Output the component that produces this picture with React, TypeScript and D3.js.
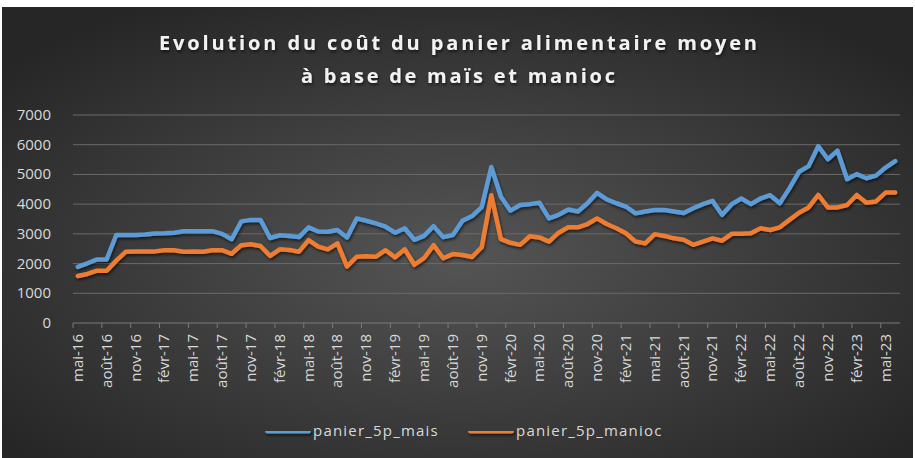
import React, { useEffect, useRef } from "react";
import * as d3 from "d3";

const monthNames = ["janv", "févr", "mars", "avr", "mai", "juin", "juil", "août", "sept", "oct", "nov", "déc"];

// mai-16 .. juin-23
const categories: string[] = [];
for (let k = 0; k < 86; k++) {
  const m = (4 + k) % 12;
  const yr = 16 + Math.floor((4 + k) / 12);
  categories.push(`${monthNames[m]}-${yr}`);
}

const mais = [
  1890, 2010, 2140, 2140, 2960, 2960, 2960, 2980, 3010, 3020,
  3040, 3090, 3090, 3090, 3090, 3000, 2820, 3420, 3470, 3470,
  2860, 2950, 2930, 2890, 3220, 3080, 3070, 3130, 2880, 3520,
  3440, 3350, 3240, 3040, 3190, 2800, 2930, 3260, 2890, 2960,
  3440, 3600, 3900, 5250, 4250, 3780, 3970, 4000, 4050, 3520,
  3640, 3820, 3750, 4030, 4380, 4160, 4030, 3920, 3690, 3750,
  3800, 3800, 3750, 3700, 3860, 4000, 4110, 3640, 4000, 4190,
  4000, 4190, 4300, 4030, 4530, 5090, 5280, 5950, 5510, 5800,
  4840, 5010, 4870, 4960, 5230, 5450,
];

const manioc = [
  1580, 1650, 1760, 1760, 2100, 2400, 2410, 2410, 2410, 2450,
  2450, 2400, 2410, 2400, 2450, 2450, 2330, 2620, 2650, 2590,
  2260, 2480, 2460, 2400, 2790, 2570, 2480, 2680, 1900, 2230,
  2250, 2230, 2450, 2210, 2480, 1960, 2180, 2620, 2180, 2320,
  2290, 2220, 2550, 4300, 2820, 2700, 2630, 2920, 2880, 2740,
  3040, 3220, 3220, 3330, 3520, 3330, 3190, 3020, 2740, 2680,
  2990, 2930, 2850, 2800, 2630, 2740, 2850, 2770, 3000, 3000,
  3020, 3190, 3130, 3220, 3470, 3710, 3890, 4310, 3890, 3890,
  3970, 4310, 4050, 4090, 4390, 4390,
];

const yTicks = [0, 1000, 2000, 3000, 4000, 5000, 6000, 7000];
const seriesNames = ["panier_5p_mais", "panier_5p_manioc"];
const seriesColors = ["#5B9BD5", "#ED7D31"];
const titleLines = ["Evolution du coût du panier alimentaire moyen", "à base de maïs et manioc"];

const W = 915;
const H = 458;
const FONT = "'Open Sans', sans-serif";

export default function App() {
  const ref = useRef<SVGSVGElement | null>(null);

  useEffect(() => {
    if (!ref.current) return;
    const svg = d3.select(ref.current);
    svg.selectAll("*").remove();

    const defs = svg.append("defs");
    const grad = defs
      .append("radialGradient")
      .attr("id", "bg")
      .attr("cx", "50%")
      .attr("cy", "55%")
      .attr("r", "65%");
    grad.append("stop").attr("offset", "0%").attr("stop-color", "#555555");
    grad.append("stop").attr("offset", "100%").attr("stop-color", "#262626");

    const shadow = defs
      .append("filter")
      .attr("id", "sh")
      .attr("filterUnits", "userSpaceOnUse")
      .attr("x", 0)
      .attr("y", 0)
      .attr("width", W)
      .attr("height", H);
    shadow
      .append("feDropShadow")
      .attr("dx", 1)
      .attr("dy", 2)
      .attr("stdDeviation", 1.5)
      .attr("flood-color", "#000")
      .attr("flood-opacity", 0.6);

    // spreadsheet strip above
    svg.append("rect").attr("x", 0).attr("y", 0).attr("width", W).attr("height", H).attr("fill", "#ffffff");
    svg.append("rect").attr("x", 2).attr("y", 7).attr("width", 911).attr("height", 451).attr("fill", "url(#bg)");

    const x = d3.scaleBand<number>().domain(d3.range(categories.length)).range([73, 900]);
    const y = d3.scaleLinear().domain([0, 7000]).range([323, 115]);
    const cx = (i: number) => x(i)! + x.bandwidth() / 2;

    // title
    const titleWidths = [598, 314];
    titleLines.forEach((t, k) => {
      svg
        .append("text")
        .attr("x", 458)
        .attr("y", 50 + k * 33)
        .attr("text-anchor", "middle")
        .attr("fill", "#f2f2f2")
        .attr("font-family", FONT)
        .attr("font-weight", 700)
        .attr("font-size", 20)
        .attr("textLength", titleWidths[k])
        .attr("lengthAdjust", "spacing")
        .attr("filter", "url(#sh)")
        .text(t);
    });

    // grid
    svg
      .append("g")
      .selectAll("line")
      .data(yTicks.filter((d) => d > 0))
      .enter()
      .append("line")
      .attr("x1", 73)
      .attr("x2", 900)
      .attr("y1", (d) => y(d))
      .attr("y2", (d) => y(d))
      .attr("stroke", "#6a6a6a")
      .attr("stroke-width", 1);

    // y axis labels
    svg
      .append("g")
      .selectAll("text")
      .data(yTicks)
      .enter()
      .append("text")
      .attr("x", 51)
      .attr("y", (d) => y(d) + 5)
      .attr("text-anchor", "end")
      .attr("fill", "#d9d9d9")
      .attr("font-family", FONT)
      .attr("font-size", 15)
      .text((d) => d);

    // x axis
    const xAxis = svg.append("g");
    xAxis
      .append("line")
      .attr("x1", 73)
      .attr("x2", 900)
      .attr("y1", y(0))
      .attr("y2", y(0))
      .attr("stroke", "#7a7a7a");
    const tickIdx = d3.range(0, categories.length, 3);
    xAxis
      .selectAll(".tk")
      .data(tickIdx)
      .enter()
      .append("line")
      .attr("class", "tk")
      .attr("x1", (i) => x(i)!)
      .attr("x2", (i) => x(i)!)
      .attr("y1", y(0))
      .attr("y2", y(0) + 5)
      .attr("stroke", "#7a7a7a");
    xAxis
      .selectAll(".lb")
      .data(tickIdx)
      .enter()
      .append("text")
      .attr("class", "lb")
      .attr("transform", (i) => `translate(${cx(i) + 5},${y(0) + 11}) rotate(-90)`)
      .attr("text-anchor", "end")
      .attr("fill", "#d9d9d9")
      .attr("font-family", FONT)
      .attr("font-size", 15)
      .text((i) => categories[i]);

    // lines
    const line = d3
      .line<number>()
      .x((_, i) => cx(i))
      .y((d) => y(d));
    [mais, manioc].forEach((s, k) => {
      svg
        .append("path")
        .datum(s)
        .attr("d", line)
        .attr("fill", "none")
        .attr("stroke", seriesColors[k])
        .attr("stroke-width", 4.5)
        .attr("stroke-linejoin", "round")
        .attr("stroke-linecap", "round")
        .attr("filter", "url(#sh)");
    });

    // legend
    const legendX = [265, 468];
    seriesNames.forEach((n, k) => {
      const g = svg.append("g").attr("transform", `translate(${legendX[k]},431)`);
      g.append("rect")
        .attr("x", 0)
        .attr("y", -2.5)
        .attr("width", 46)
        .attr("height", 5)
        .attr("rx", 2.5)
        .attr("fill", seriesColors[k])
        .attr("filter", "url(#sh)");
      g.append("text")
        .attr("x", 48)
        .attr("y", 5)
        .attr("fill", "#d9d9d9")
        .attr("font-family", FONT)
        .attr("font-size", 15)
        .attr("letter-spacing", 1.2)
        .text(n);
    });
  }, []);

  return (
    <svg
      ref={ref}
      width={W}
      height={H}
      style={{ position: "absolute", left: 0, top: 0, display: "block" }}
    />
  );
}
